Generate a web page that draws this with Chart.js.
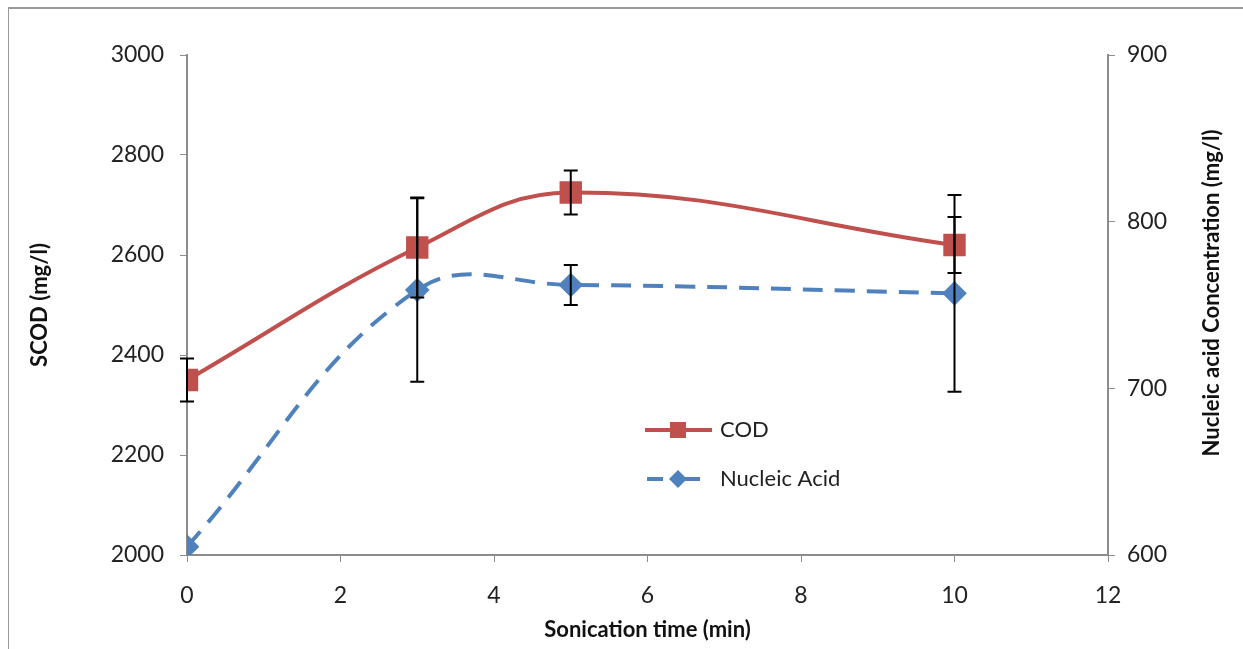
<!DOCTYPE html>
<html>
<head>
<meta charset="utf-8">
<script src="https://cdn.jsdelivr.net/npm/chart.js@4"></script>
<style>
  html, body { margin: 0; padding: 0; background: #fff; }
  #wrap { position: relative; width: 1243px; height: 649px; }
  #frame { position: absolute; left: 8px; top: 7px; right: -5px; bottom: -5px;
           border-left: 1px solid #9a9a9a; border-top: 2px solid #9a9a9a; pointer-events: none; }
</style>
</head>
<body>
<div id="wrap">
  <canvas id="chart"></canvas>
  <div id="frame"></div>
</div>
<script>
// sonication time (min)
const timeMin = [0, 3, 5, 10];
// SCOD (mg/l), left axis
const cod = [2350, 2615, 2725, 2620];
const codErr = [43, 100, 44, 56];
// nucleic acid (mg/l), right axis
const nucleic = [605, 759, 762, 757];
const nucleicErr = [0, 55, 12, 59];

const RED = "#C0504D";
const BLUE = "#4F81BD";
const AXIS = "#8c8c8c";
const FONT = "Lato, 'Open Sans', sans-serif";

// error bars drawn on top of the lines
const errorBars = {
    id: "errorBars",
    afterDatasetsDraw(chart) {
        const ctx = chart.ctx;
        const x = chart.scales.x;
        const sets = [
            { axis: chart.scales.y, vals: cod, err: codErr },
            { axis: chart.scales.y2, vals: nucleic, err: nucleicErr }
        ];
        ctx.save();
        ctx.strokeStyle = "#000";
        ctx.lineWidth = 2;
        sets.forEach(s => {
            s.vals.forEach((v, i) => {
                if (!s.err[i]) return;
                const px = x.getPixelForValue(timeMin[i]);
                const top = s.axis.getPixelForValue(v + s.err[i]);
                const bot = s.axis.getPixelForValue(v - s.err[i]);
                ctx.beginPath();
                ctx.moveTo(px, top); ctx.lineTo(px, bot);
                ctx.moveTo(px - 7, top); ctx.lineTo(px + 7, top);
                ctx.moveTo(px - 7, bot); ctx.lineTo(px + 7, bot);
                ctx.stroke();
            });
        });
        ctx.restore();
    }
};

// legend inside plot + right axis title (reads bottom to top)
const extras = {
    id: "extras",
    afterDraw(chart) {
        const ctx = chart.ctx;
        const a = chart.chartArea;
        ctx.save();
        const lx = a.left + 458, ly1 = a.top + 375, ly2 = a.top + 424;
        ctx.lineWidth = 4;
        ctx.strokeStyle = RED;
        ctx.beginPath(); ctx.moveTo(lx, ly1); ctx.lineTo(lx + 67, ly1); ctx.stroke();
        ctx.fillStyle = RED;
        ctx.fillRect(lx + 33 - 8, ly1 - 8, 16, 16);
        ctx.strokeStyle = BLUE;
        ctx.beginPath(); ctx.moveTo(lx + 2, ly2); ctx.lineTo(lx + 18, ly2);
        ctx.moveTo(lx + 33, ly2); ctx.lineTo(lx + 55, ly2); ctx.stroke();
        ctx.fillStyle = BLUE;
        ctx.beginPath();
        ctx.moveTo(lx + 33, ly2 - 9); ctx.lineTo(lx + 42, ly2);
        ctx.lineTo(lx + 33, ly2 + 9); ctx.lineTo(lx + 24, ly2); ctx.closePath(); ctx.fill();
        ctx.fillStyle = "#222";
        ctx.font = "22px " + FONT;
        ctx.textBaseline = "middle";
        ctx.fillText("COD", lx + 75, ly1);
        ctx.fillText("Nucleic Acid", lx + 75, ly2);

        ctx.translate(1212, (a.top + a.bottom) / 2 - 12);
        ctx.rotate(-Math.PI / 2);
        ctx.textAlign = "center";
        ctx.font = "bold 22px " + FONT;
        ctx.fillStyle = "#111";
        ctx.fillText("Nucleic acid Concentration (mg/l)", 0, 0);
        ctx.restore();
    }
};

const tickFont = { family: FONT, size: 23 };
const titleFont = { family: FONT, size: 22, weight: "bold" };
const plain = v => String(v);

new Chart(document.getElementById("chart"), {
    type: "line",
    data: {
        datasets: [{
            label: "COD",
            data: timeMin.map((t, i) => ({ x: t, y: cod[i] })),
            yAxisID: "y",
            borderColor: RED,
            backgroundColor: RED,
            borderWidth: 4,
            tension: 0.4,
            pointStyle: "rect",
            pointRadius: 13,
            pointHoverRadius: 13
        }, {
            label: "Nucleic Acid",
            data: timeMin.map((t, i) => ({ x: t, y: nucleic[i] })),
            yAxisID: "y2",
            borderColor: BLUE,
            backgroundColor: BLUE,
            borderWidth: 4,
            borderDash: [20, 12],
            tension: 0.4,
            pointStyle: "rectRot",
            pointRadius: 9.5,
            pointHoverRadius: 9.5
        }]
    },
    options: {
        responsive: true,
        maintainAspectRatio: false,
        animation: false,
        layout: { padding: { top: 55, left: 0, right: 0, bottom: 0 } },
        plugins: { legend: { display: false }, tooltip: { enabled: false } },
        scales: {
            x: {
                type: "linear",
                min: 0, max: 12,
                ticks: { stepSize: 2, color: "#222", font: tickFont, padding: 20, callback: plain },
                grid: { drawOnChartArea: false, drawTicks: true, tickLength: 7, color: AXIS },
                border: { color: AXIS, width: 2 },
                title: { display: true, text: "Sonication time (min)", color: "#111", font: titleFont, padding: { top: 0, bottom: 6 } },
                afterFit: s => { s.height = 94; }
            },
            y: {
                position: "left",
                min: 2000, max: 3000,
                ticks: { stepSize: 200, color: "#222", font: tickFont, padding: 16, callback: plain },
                grid: { drawOnChartArea: false, drawTicks: true, tickLength: 7, color: AXIS },
                border: { color: AXIS, width: 2 },
                title: { display: true, text: "SCOD (mg/l)", color: "#111", font: titleFont, padding: { top: 27, bottom: 0 } },
                afterFit: s => { s.width = 187; }
            },
            y2: {
                position: "right",
                min: 600, max: 900,
                ticks: { stepSize: 100, color: "#222", font: tickFont, padding: 12, callback: plain },
                grid: { drawOnChartArea: false, drawTicks: true, tickLength: 7, color: AXIS },
                border: { color: AXIS, width: 2 },
                afterFit: s => { s.width = 135; }
            }
        }
    },
    plugins: [errorBars, extras]
});
</script>
</body>
</html>
